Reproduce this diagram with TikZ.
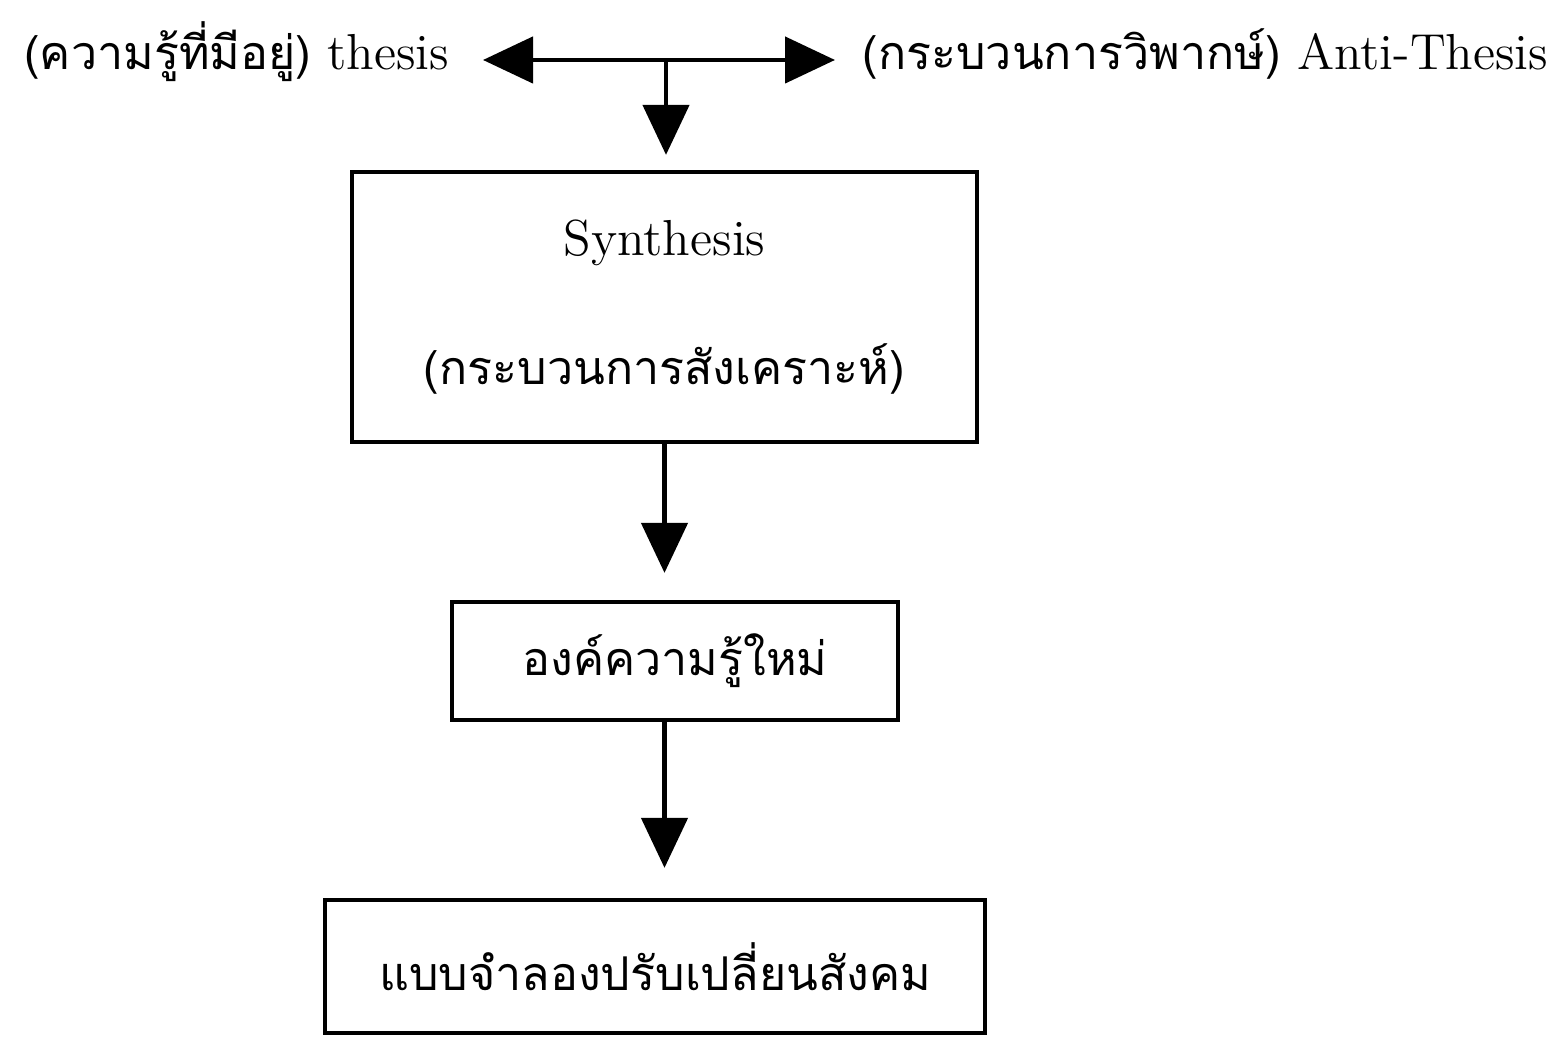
\documentclass[tikz,border=0pt]{standalone}
\usepackage{fontspec}
\usepackage{tikz}
\usetikzlibrary{arrows.meta}
\newfontfamily\thai[Script=Thai,Scale=0.92]{Loma}

\begin{document}
\begin{tikzpicture}[
    box/.style={draw, line width=1.2pt, inner sep=0pt},
    flow/.style={line width=1.3pt, -{Triangle[length=0.5cm, width=0.46cm]}},
    every node/.style={font=\fontsize{14.4}{17}\selectfont}
  ]
        \useasboundingbox (0,0) rectangle (15.67,10.36);
        % Thesis and anti-thesis
        \node[inner sep=0pt, anchor=base east] (thesis) at (4.50,9.66) {{\thai (ความรู้ที่มีอยู่)} thesis};
        \node[inner sep=0pt, anchor=base west] (anti) at (8.62,9.66) {{\thai (กระบวนการวิพากษ์)} Anti-Thesis};
        \coordinate (j) at (6.66,9.76);
        \draw[flow, {Triangle[length=0.5cm, width=0.46cm]}-{Triangle[length=0.5cm, width=0.46cm]},
              shorten <=0.33cm, shorten >=0.27cm] (thesis.east |- j) -- (anti.west |- j);
        % Synthesis box
        \node[box, minimum width=6.25cm, minimum height=2.70cm, align=center] (synth) at (6.645,7.29)
            {Synthesis\\[0.7cm]{\thai (กระบวนการสังเคราะห์)}};
        \draw[flow, shorten >=0.15cm] (j) -- (j |- synth.north);
        % New knowledge
        \node[box, minimum width=4.46cm, minimum height=1.18cm] (know) at (6.75,3.75) {\thai องค์ความรู้ใหม่};
        \draw[flow, shorten >=0.27cm] (synth.south) -- (synth.south |- know.north);
        % Model
        \node[box, minimum width=6.60cm, minimum height=1.33cm] (model) at (6.55,0.695) {\thai แบบจำลองปรับเปลี่ยนสังคม};
        \draw[flow, shorten >=0.30cm] (know.south -| synth.south) -- (synth.south |- model.north);
    \end{tikzpicture}
\end{document}
